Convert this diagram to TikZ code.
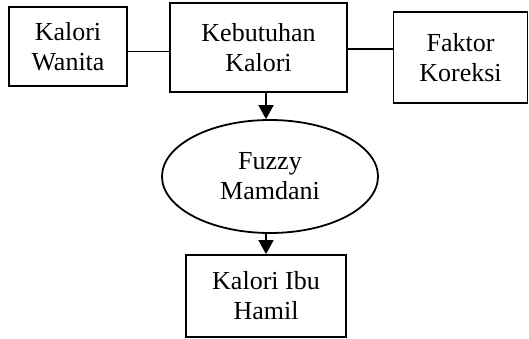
\documentclass[tikz,border=0pt]{standalone}
\usepackage{fontspec}
\setmainfont{Liberation Serif}
\usetikzlibrary{arrows.meta,shapes.geometric}
\begin{document}
\begin{tikzpicture}[x=1pt,y=1pt,
  every node/.style={font=\fontsize{26}{30}\selectfont, align=center, inner sep=0pt},
  box/.style={draw, line width=1.8pt, rectangle},
  oval/.style={draw, line width=1.8pt, ellipse},
  conn/.style={line width=1.8pt},
  arr/.style={line width=1.8pt, -{Triangle[length=14pt,width=15pt]}}]
\useasboundingbox (0,0) rectangle (529,-338);
\node[box, minimum width=118pt, minimum height=79pt] (kw) at (68,-46.5) {Kalori\\Wanita};
\node[box, minimum width=177pt, minimum height=89pt] (keb) at (258.5,-47.5) {Kebutuhan\\Kalori};
\node[box, minimum width=134pt, minimum height=91pt] (fk) at (460.5,-57.5) {Faktor\\Koreksi};
\node[oval, minimum width=216pt, minimum height=113pt] (ell) at (270,-176.5) {Fuzzy\\Mamdani};
\node[box, minimum width=160pt, minimum height=82pt] (ham) at (266,-296) {Kalori Ibu\\Hamil};
\coordinate (l1) at ([yshift=-5pt]kw.east);
\draw[conn] (l1) -- (l1 -| keb.west);
\coordinate (l2) at ([yshift=-1.5pt]keb.east);
\draw[conn] (l2) -- (l2 -| fk.west);
\draw[arr] (keb.south -| ham.north) -- (ell.north -| ham.north);
\draw[arr] ([yshift=1pt]ell.south -| ham.north) -- (ham.north);
\end{tikzpicture}
\end{document}
